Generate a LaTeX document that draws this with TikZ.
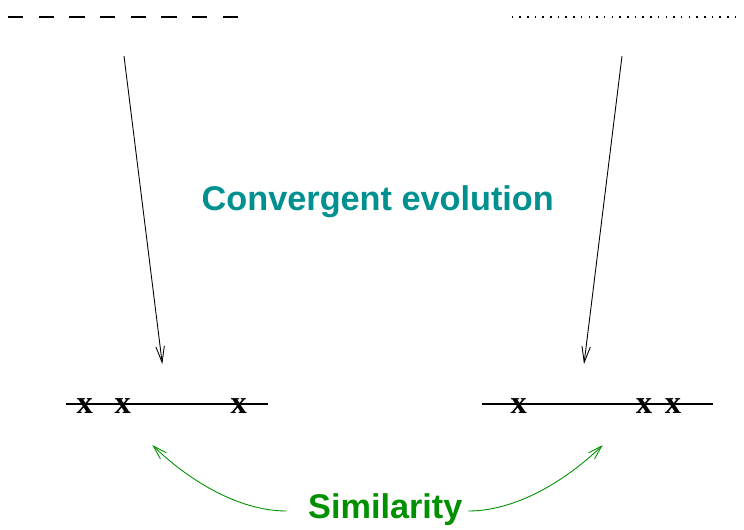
\documentclass[tikz,border=0pt]{standalone}
\usepackage{fontspec}
\setmainfont{Liberation Serif}
\setsansfont{Liberation Sans}
\definecolor{figteal}{RGB}{0,144,144}
\definecolor{figgreen}{RGB}{0,144,0}
\usetikzlibrary{arrows.meta}
\tikzset{
  evo/.style={-{Straight Barb[length=0.32cm,width=0.17cm]}, line width=0.5pt},
  simarrow/.style={-{Straight Barb[length=0.28cm,width=0.17cm]}, line width=0.5pt, figgreen},
  axisline/.style={line width=1.1pt},
  xmark/.style={anchor=base, inner sep=0pt, font=\fontsize{18.5}{20}\selectfont\bfseries},
  bigtext/.style={anchor=base, inner sep=0pt, font=\fontsize{19.5}{23}\selectfont\sffamily\bfseries}
}

\begin{document}
\begin{tikzpicture}[x=0.02cm, y=-0.02cm]
            \useasboundingbox (0,0) rectangle (744,529);

            % Ancestors
            \draw[line width=1.1pt, dash pattern=on 0.306cm off 0.308cm] (8,17) -- (238,17);
            \draw[line width=0.03cm, dash pattern=on 0.03cm off 0.124cm] (511.6,17) -- (737,17);

            % Descendant lines
            \coordinate (la) at (66,404);
            \coordinate (lb) at (268,404);
            \coordinate (ra) at (482,404);
            \coordinate (rb) at (713,404);
            \draw[axisline] (la) -- (lb);
            \draw[axisline] (ra) -- (rb);

            % Mutations
            \node[xmark] (l1) at (84.7,413) {x};
            \node[xmark] (l2) at (122.7,413) {x};
            \node[xmark] (l3) at (238.8,413) {x};
            \node[xmark] (r1) at (518.7,413) {x};
            \node[xmark] (r2) at (644,413) {x};
            \node[xmark] (r3) at (673,413) {x};

            % Evolution arrows
            \coordinate (ltop) at (124,56);
            \coordinate (lend) at (162.3,364);
            \coordinate (rtop) at (622,56);
            \coordinate (rend) at (584,364);
            \draw[evo] (ltop) -- (lend);
            \draw[evo] (rtop) -- (rend);

            % Labels
            \node[bigtext, figteal] (conv) at (377.8,210) {Convergent evolution};
            \node[bigtext, figgreen] (sim) at (385.3,518.3) {Similarity};

            % Similarity arrows
            \coordinate (sl) at (286.7,511);
            \coordinate (sr) at (468.3,511);
            \coordinate (tl) at (152.3,445);
            \coordinate (tr) at (602.7,445);
            \draw[simarrow] (sl) .. controls (236,511) and (185,477) .. (tl);
            \draw[simarrow] (sr) .. controls (519,511) and (570,477) .. (tr);
        \end{tikzpicture}
\end{document}
